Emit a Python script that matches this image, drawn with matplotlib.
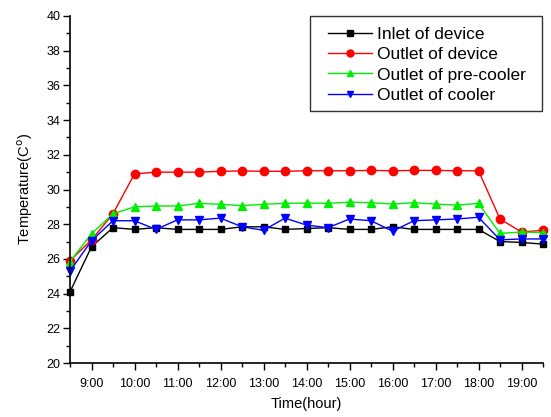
import matplotlib
matplotlib.use("Agg")
import matplotlib.pyplot as plt
from matplotlib.ticker import MultipleLocator, FixedLocator
from matplotlib.patches import Rectangle

plt.rcParams['font.family'] = ['Liberation Sans', 'DejaVu Sans']

# half-hour sample times, hours from 8:30 to 19:30
times = [8.5, 9.0, 9.5, 10.0, 10.5, 11.0, 11.5, 12.0, 12.5, 13.0, 13.5, 14.0,
         14.5, 15.0, 15.5, 16.0, 16.5, 17.0, 17.5, 18.0, 18.5, 19.0, 19.5]

inlet_device = [24.1, 26.7, 27.8, 27.7, 27.8, 27.7, 27.7, 27.7, 27.85, 27.85, 27.7, 27.75,
                27.8, 27.7, 27.7, 27.85, 27.7, 27.7, 27.7, 27.7, 27.0, 26.95, 26.85]
outlet_device = [25.9, 27.1, 28.6, 30.9, 31.0, 31.0, 31.0, 31.05, 31.07, 31.05, 31.05, 31.08,
                 31.08, 31.08, 31.1, 31.08, 31.1, 31.1, 31.08, 31.08, 28.3, 27.55, 27.65]
outlet_precooler = [25.85, 27.45, 28.6, 29.0, 29.05, 29.05, 29.2, 29.15, 29.07, 29.15, 29.2, 29.22,
                    29.2, 29.27, 29.24, 29.16, 29.24, 29.16, 29.1, 29.2, 27.47, 27.55, 27.52]
outlet_cooler = [25.3, 27.05, 28.2, 28.2, 27.7, 28.25, 28.25, 28.35, 27.85, 27.65, 28.35, 27.95,
                 27.8, 28.3, 28.2, 27.6, 28.2, 28.25, 28.3, 28.4, 27.1, 27.15, 27.15]

tick_hours = [9, 10, 11, 12, 13, 14, 15, 16, 17, 18, 19]
tick_labels = ["9:00", "10:00", "11:00", "12:00", "13:00", "14:00", "15:00",
               "16:00", "17:00", "18:00", "19:00"]

W, H = 551, 417
fig = plt.figure(figsize=(W/100, H/100), dpi=100)
ax = fig.add_axes([70/W, 1-363/H, (543-70)/W, (363-16)/H])

ax.plot(times, inlet_device, color='black', marker='s', ms=5, lw=1, label='Inlet of device', clip_on=False)
ax.plot(times, outlet_device, color='#ff0000', marker='o', ms=6, lw=1, label='Outlet of device', clip_on=False)
ax.plot(times, outlet_precooler, color='#00ee00', marker='^', ms=6, lw=1, label='Outlet of pre-cooler', clip_on=False)
ax.plot(times, outlet_cooler, color='#0000ff', marker='v', ms=6, lw=1, label='Outlet of cooler', clip_on=False)

ax.set_xlim(8.5, 19.5)
ax.set_ylim(20, 40)
ax.xaxis.set_major_locator(FixedLocator(tick_hours))
ax.set_xticklabels(tick_labels)
ax.xaxis.set_minor_locator(MultipleLocator(0.5))
ax.yaxis.set_major_locator(MultipleLocator(2))
ax.yaxis.set_minor_locator(MultipleLocator(1))

for s in ['top', 'right']:
    ax.spines[s].set_visible(False)
for s in ['left', 'bottom']:
    ax.spines[s].set_linewidth(1.2)

ax.tick_params(which='major', direction='out', length=5, width=1, labelsize=9, pad=6)
ax.tick_params(which='minor', direction='out', length=3, width=1)
ax.tick_params(axis='y', which='major', pad=2)

ax.set_xlabel('Time(hour)', fontsize=10.5, labelpad=5)
ax.set_ylabel('Temperature(C$^{\\mathrm{o}}$)', fontsize=10.5, labelpad=8)

fs = 12.5
fspx = fs * 100 / 72
leg = ax.legend(loc='upper left', bbox_to_anchor=((328 - 0.5*fspx)/W, 1-18/H), bbox_transform=fig.transFigure,
                fontsize=fs, frameon=False,
                handlelength=44/fspx, handletextpad=5/fspx, borderpad=0.5, labelspacing=0.3,
                borderaxespad=0)
for h in leg.legend_handles:
    h.set_markersize(5)

fig.patches.append(Rectangle((310/W, 1-111/H), (542-310)/W, (111-16)/H, transform=fig.transFigure,
                             fill=False, edgecolor='#333333', linewidth=1.0, zorder=5))

fig.savefig('out.png', dpi=100)
